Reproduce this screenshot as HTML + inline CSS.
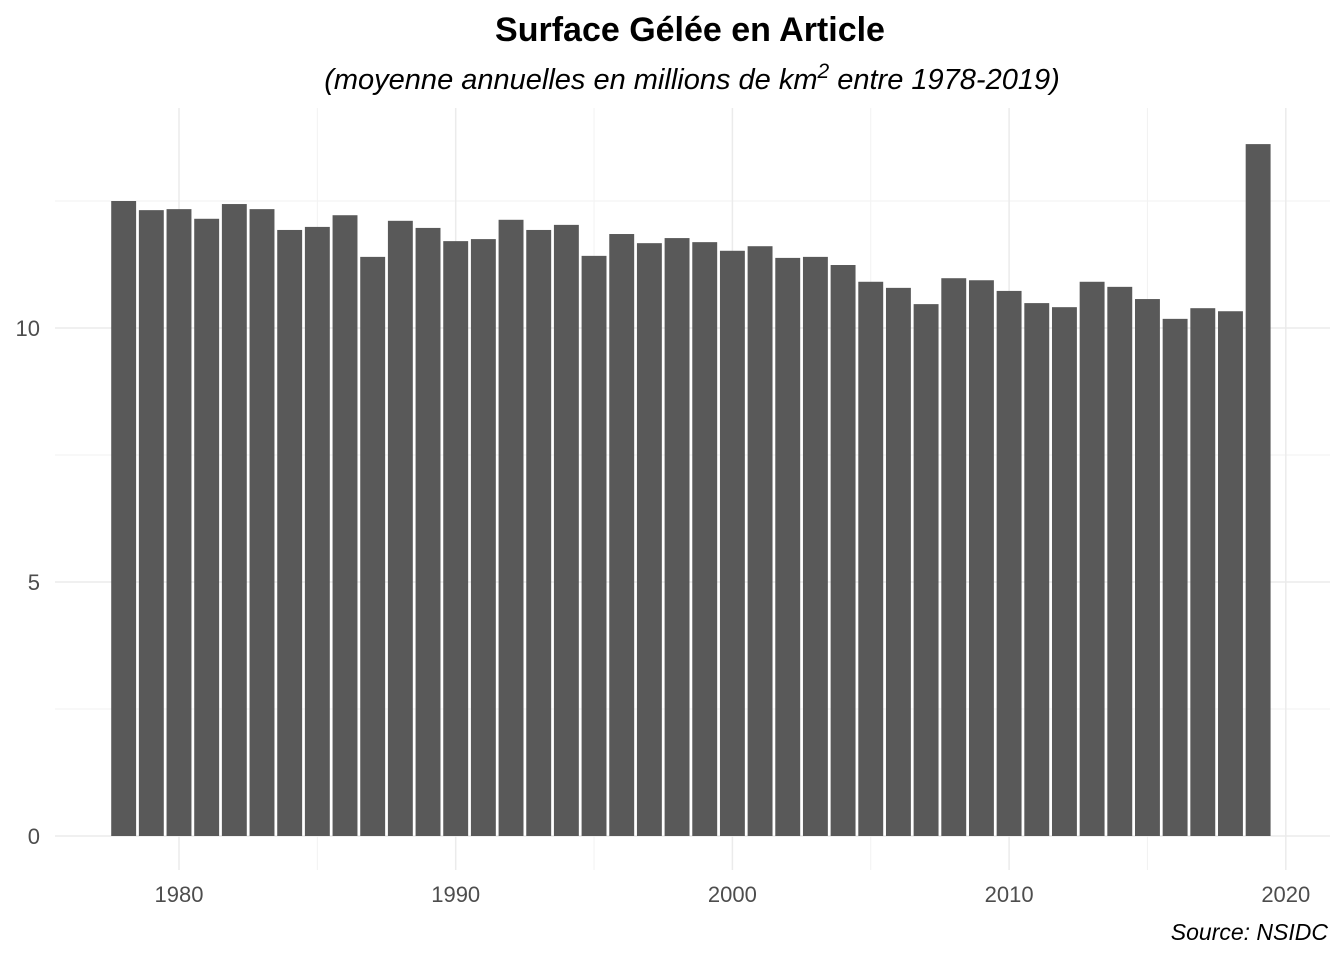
<!DOCTYPE html>
<html><head><meta charset="utf-8"><style>
body{margin:0;background:#fff;font-family:"Liberation Sans",sans-serif}
</style></head><body>
<svg id="chart" width="1344" height="960" xmlns="http://www.w3.org/2000/svg">
<text x="690" y="41" text-anchor="middle" font-size="34" font-weight="bold" fill="#000">Surface Gélée en Article</text>
<text x="692" y="89" text-anchor="middle" font-size="29" font-style="italic" fill="#000">(moyenne annuelles en millions de km<tspan dy="-11" font-size="21">2</tspan><tspan dy="11"> entre 1978-2019)</tspan></text>
<g id="grid"></g><g id="bars"></g><g id="axes"></g>
<text x="1328" y="940" text-anchor="end" font-size="23" font-style="italic" fill="#000">Source: NSIDC</text>
</svg>
<script>
const years=[1978,1979,1980,1981,1982,1983,1984,1985,1986,1987,1988,1989,1990,1991,1992,1993,1994,1995,1996,1997,1998,1999,2000,2001,2002,2003,2004,2005,2006,2007,2008,2009,2010,2011,2012,2013,2014,2015,2016,2017,2018,2019];
const values=[12.50,12.32,12.34,12.15,12.44,12.34,11.93,11.99,12.22,11.40,12.11,11.97,11.71,11.75,12.13,11.93,12.03,11.42,11.85,11.67,11.77,11.69,11.52,11.61,11.38,11.40,11.24,10.91,10.79,10.47,10.98,10.94,10.73,10.49,10.41,10.91,10.81,10.57,10.18,10.39,10.33,13.62];
const yTicks=[0,5,10];
const yMinor=[2.5,7.5,12.5];
const xTicks=[1980,1990,2000,2010,2020];
const xMinor=[1985,1995,2005,2015];
const NS="http://www.w3.org/2000/svg";
const X=v=>179+(v-1980)*27.67;
const Y=v=>836-v*50.8;
const L=55,R=1330,T=108,B=870;
function mk(tag,attrs,parent){const e=document.createElementNS(NS,tag);for(const k in attrs)e.setAttribute(k,attrs[k]);parent.appendChild(e);return e;}
const g=document.getElementById('grid'),bg=document.getElementById('bars'),ax=document.getElementById('axes');
yMinor.forEach(v=>{const l=mk('line',{x1:L,x2:R,y1:Y(v),y2:Y(v),stroke:'#f2f2f2','stroke-width':1},g);

});
xMinor.forEach(v=>{const l=mk('line',{x1:X(v),x2:X(v),y1:T,y2:B,stroke:'#f2f2f2','stroke-width':1},g);

});
yTicks.forEach(v=>{const l=mk('line',{x1:L,x2:R,y1:Y(v),y2:Y(v),stroke:'#ebebeb','stroke-width':1.5},g);


const t=mk('text',{x:40,y:Y(v)+8,'text-anchor':'end','font-size':22,fill:'#4d4d4d'},ax);t.textContent=v;

});
xTicks.forEach(v=>{const l=mk('line',{x1:X(v),x2:X(v),y1:T,y2:B,stroke:'#ebebeb','stroke-width':1.5},g);


const t=mk('text',{x:X(v),y:902,'text-anchor':'middle','font-size':22,fill:'#4d4d4d'},ax);t.textContent=v;

});
const bw=27.67*0.9;
years.forEach((yr,i)=>{const r=mk('rect',{x:X(yr)-bw/2,y:Y(values[i]),width:bw,height:Y(0)-Y(values[i]),fill:'#595959'},bg);

});
</script>
</body></html>
